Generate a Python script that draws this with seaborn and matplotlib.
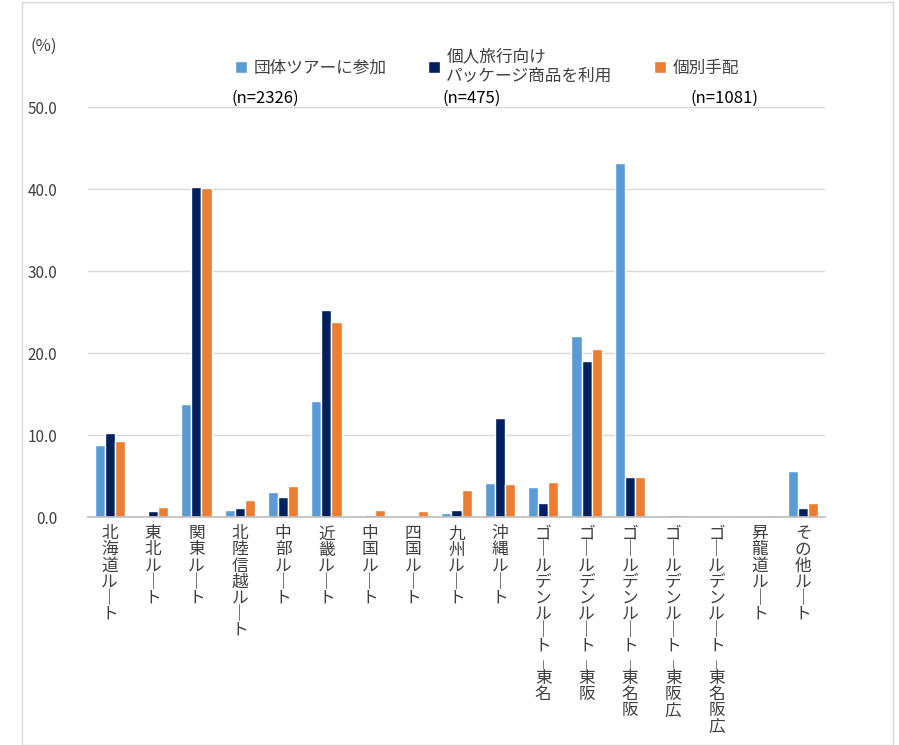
import matplotlib
matplotlib.use("Agg")
import matplotlib.pyplot as plt
import seaborn as sns
import pandas as pd
from matplotlib.patches import Rectangle

categories = ["北海道ルート", "東北ルート", "関東ルート", "北陸信越ルート", "中部ルート", "近畿ルート",
              "中国ルート", "四国ルート", "九州ルート", "沖縄ルート", "ゴールデンルート_東名",
              "ゴールデンルート_東阪", "ゴールデンルート_東名阪", "ゴールデンルート_東阪広",
              "ゴールデンルート_東名阪広", "昇龍道ルート", "その他ルート"]
series = ["団体ツアーに参加", "個人旅行向け\nパッケージ商品を利用", "個別手配"]
group = [8.8, 0, 13.8, 0.8, 3.0, 14.2, 0, 0, 0.5, 4.2, 3.7, 22.1, 43.2, 0, 0, 0, 5.6]
package = [10.2, 0.7, 40.3, 1.1, 2.4, 25.3, 0.3, 0, 0.9, 12.1, 1.7, 19.0, 4.9, 0.3, 0, 0, 1.1]
individual = [9.3, 1.2, 40.1, 2.1, 3.8, 23.8, 0.8, 0.7, 3.3, 4.0, 4.3, 20.5, 4.9, 0.2, 0.1, 0.2, 1.7]
n_labels = ["(n=2326)", "(n=475)", "(n=1081)"]
colors = ["#5B9BD5", "#002060", "#ED7D31"]

sns.set_theme(style="white")
plt.rcParams['font.family'] = ['Noto Sans CJK JP', 'DejaVu Sans']

df = pd.DataFrame({"cat": categories * 3,
                   "val": group + package + individual,
                   "ser": [series[0]] * 17 + [series[1]] * 17 + [series[2]] * 17})

def vert(s):
    out = []
    for ch in s:
        if ch == "ー":
            ch = "｜"
        elif ch == "_":
            ch = "╷"
        out.append(ch)
    return "\n".join(out)

fig = plt.figure(figsize=(8.99, 7.45), dpi=100)
ax = fig.add_axes([88/899, 1 - 517/745, (825-88)/899, (517-107)/745])
sns.barplot(data=df, x="cat", y="val", hue="ser", palette=colors, ax=ax,
            width=0.7, gap=0, saturation=1, legend=True)
ax.set_ylim(0, 50)
ax.set_yticks([0, 10, 20, 30, 40, 50])
ax.set_yticklabels([f"{v:.1f}" for v in [0, 10, 20, 30, 40, 50]], fontsize=11, color="#404040")
ax.yaxis.grid(True, color="#D9D9D9", lw=1)
ax.set_axisbelow(True)
for s in ["left", "right", "top"]:
    ax.spines[s].set_visible(False)
ax.spines["bottom"].set_color("#BFBFBF")
ax.set_xlabel("")
ax.set_ylabel("")
ax.tick_params(axis="y", length=0, pad=22)
ax.tick_params(axis="x", length=0, pad=6)
ax.set_xticks(range(len(categories)))
ax.set_xticklabels([vert(c) for c in categories], fontsize=12, color="#404040",
                   va="top", linespacing=0.93)

h, l = ax.get_legend_handles_labels()
ax.get_legend().remove()
fig.legend(h, l, loc="upper left", bbox_to_anchor=(220/899, 1 - 33/745), ncol=3,
           frameon=False, fontsize=12, handlelength=0.7, handleheight=0.7,
           columnspacing=2.5, handletextpad=0.4, labelcolor="#404040")

fig.text(30/899, 1 - 46/745, "(%)", fontsize=12, color="#404040", va="center")
for x, t in zip([265, 472, 725], n_labels):
    fig.text(x/899, 1 - 98/745, t, fontsize=12, color="#000000", ha="center", va="center")

fig.patches.append(Rectangle((22/899, 0), (893-22)/899, 1 - 2/745, transform=fig.transFigure,
                             fill=False, edgecolor="#D9D9D9", lw=1))
fig.savefig("out.png", dpi=100)
